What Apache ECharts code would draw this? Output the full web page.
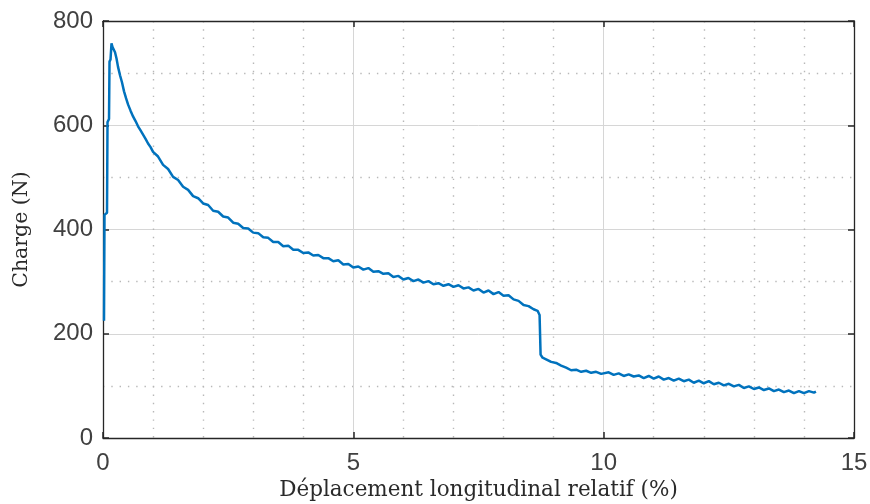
<!DOCTYPE html>
<html>
<head>
<meta charset="utf-8">
<script src="https://cdn.jsdelivr.net/npm/echarts@6/dist/echarts.min.js"></script>
<style>
  html, body { margin: 0; padding: 0; background: #fff; }
  #chart { width: 870px; height: 504px; }
</style>
</head>
<body>
<div id="chart"></div>
<script>
// displacement (%) and load (N)
const deplacement = [
  0.02, 0.03, 0.08, 0.09, 0.12, 0.13, 0.15, 0.17, 0.19, 0.21, 0.24, 0.27, 0.30, 0.34, 0.38, 0.42,
  0.46, 0.50, 0.55, 0.60, 0.65, 0.70, 0.75, 0.80, 0.85, 0.90, 0.95,
  1.0, 1.1, 1.2, 1.3, 1.4, 1.5, 1.6, 1.7, 1.8, 1.9, 2.0, 2.1, 2.2, 2.3, 2.4, 2.5, 2.6, 2.7, 2.8, 2.9,
  3.0, 3.1, 3.2, 3.3, 3.4, 3.5, 3.6, 3.7, 3.8, 3.9, 4.0, 4.1, 4.2, 4.3, 4.4, 4.5, 4.6, 4.7, 4.8, 4.9,
  5.0, 5.1, 5.2, 5.3, 5.4, 5.5, 5.6, 5.7, 5.8, 5.9, 6.0, 6.1, 6.2, 6.3, 6.4, 6.5, 6.6, 6.7, 6.8, 6.9,
  7.0, 7.1, 7.2, 7.3, 7.4, 7.5, 7.6, 7.7, 7.8, 7.9, 8.0, 8.1, 8.2, 8.3, 8.4, 8.5, 8.6, 8.68, 8.72,
  8.74, 8.78, 8.85, 8.95, 9.05, 9.15, 9.25, 9.35, 9.45, 9.55, 9.65, 9.75, 9.85, 9.95,
  10.1, 10.2, 10.3, 10.4, 10.5, 10.6, 10.7, 10.8, 10.9, 11.0, 11.1, 11.2, 11.3, 11.4, 11.5, 11.6, 11.7,
  11.8, 11.9, 12.0, 12.1, 12.2, 12.3, 12.4, 12.5, 12.6, 12.7, 12.8, 12.9, 13.0, 13.1, 13.2, 13.3, 13.4,
  13.5, 13.6, 13.7, 13.8, 13.9, 14.0, 14.1, 14.2, 14.24
]
const charge = [
  225, 428, 432, 606, 612, 722, 726, 757, 750, 752, 740, 728, 712, 696, 682, 665,
  652, 640, 628, 617, 608, 598, 590, 582, 574, 565, 558,
  549, 540, 524, 516, 501, 495, 482, 476, 464, 460, 450, 447, 436, 434, 425, 423, 413, 411, 403, 402,
  394, 393, 385, 384, 376, 376, 368, 369, 361, 361, 355, 356, 350, 351, 345, 345, 339, 341, 333, 334,
  327, 329, 323, 326, 319, 320, 315, 316, 309, 311, 304, 307, 301, 304, 298, 301, 295, 297, 292, 295,
  290, 293, 287, 289, 283, 286, 279, 283, 276, 280, 273, 274, 266, 263, 255, 253, 247, 244, 236,
  160, 154, 151, 146, 144, 139, 135, 130, 131, 127, 129, 125, 127, 123,
  126, 121, 124, 119, 122, 118, 120, 115, 119, 114, 118, 112, 115, 110, 114, 109, 112,
  106, 110, 105, 109, 103, 106, 101, 104, 99, 102, 96, 99, 94, 97, 92, 95, 90,
  93, 88, 91, 86, 90, 86, 90, 87, 89
]

const xMin = 0, xMax = 15, xStep = 5
const yMin = 0, yMax = 800, yStep = 200

let myChart = echarts.init(document.getElementById('chart'))

let tickLabel = {
  fontFamily: 'Liberation Sans',
  fontSize: 24,
  color: '#404040'
}
let frameLine = { show: true, onZero: false, lineStyle: { color: '#262626', width: 1.3 } }
let innerTick = { show: true, inside: true, length: 6, lineStyle: { color: '#262626', width: 1.5 } }

let option = {
  animation: false,
  grid: { left: 103, right: 16, top: 21, bottom: 66, outerBoundsMode: 'none', containLabel: false },
  xAxis: [
    {
      type: 'value',
      min: xMin,
      max: xMax,
      interval: xStep,
      name: 'Déplacement longitudinal relatif (%)',
      nameLocation: 'middle',
      nameGap: 41,
      nameTextStyle: { fontFamily: 'DejaVu Serif', fontSize: 21.5, color: '#2a2a2a' },
      axisLine: frameLine,
      axisTick: innerTick,
      axisLabel: Object.assign({ margin: 13 }, tickLabel),
      splitLine: { show: true, lineStyle: { color: '#d6d6d6', width: 1 } },
      minorTick: { show: false, splitNumber: 5 },
      minorSplitLine: { show: true, lineStyle: { color: '#b8b8b8', width: 1.4, type: [1.4, 6.9] } }
    },
    {
      type: 'value',
      position: 'top',
      min: xMin,
      max: xMax,
      interval: xStep,
      axisLine: frameLine,
      axisTick: innerTick,
      axisLabel: { show: false },
      splitLine: { show: false }
    }
  ],
  yAxis: [
    {
      type: 'value',
      min: yMin,
      max: yMax,
      interval: yStep,
      name: 'Charge (N)',
      nameLocation: 'middle',
      nameRotate: 90,
      nameGap: 71,
      nameTextStyle: { fontFamily: 'DejaVu Serif', fontSize: 20.5, color: '#2a2a2a' },
      axisLine: frameLine,
      axisTick: innerTick,
      axisLabel: Object.assign({ margin: 10 }, tickLabel),
      splitLine: { show: true, lineStyle: { color: '#d6d6d6', width: 1 } },
      minorTick: { show: false, splitNumber: 2 },
      minorSplitLine: { show: true, lineStyle: { color: '#b8b8b8', width: 1.4, type: [1.4, 6.9] } }
    },
    {
      type: 'value',
      position: 'right',
      min: yMin,
      max: yMax,
      interval: yStep,
      axisLine: frameLine,
      axisTick: innerTick,
      axisLabel: { show: false },
      splitLine: { show: false }
    }
  ],
  series: [{
    type: 'line',
    xAxisIndex: 0,
    yAxisIndex: 0,
    showSymbol: false,
    data: deplacement.map((d, i) => [d, charge[i]]),
    lineStyle: { color: '#0072bd', width: 2.5 },
    itemStyle: { color: '#0072bd' }
  }]
}
myChart.setOption(option)
window.addEventListener('resize', function() {
  myChart.resize()
})
</script>
</body>
</html>
